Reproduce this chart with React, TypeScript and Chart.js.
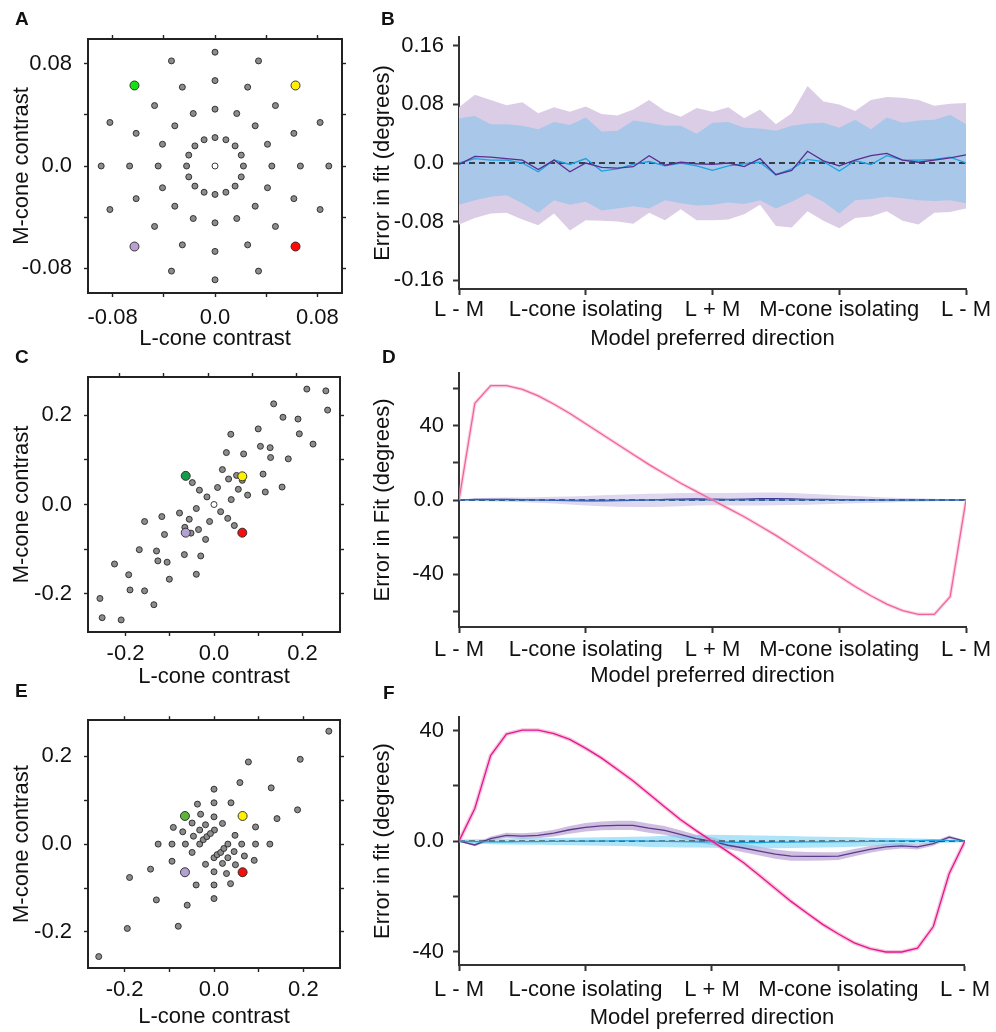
import React, { useEffect, useRef } from 'react';
import { Chart, registerables } from 'chart.js';
Chart.register(...registerables);

const FONT = "'Liberation Sans', Arial, Helvetica, sans-serif";
const TXT = '#111111';
const AXC = '#222222';

// ---------------- Panel A (stimuli, isoluminant-circular) ----------------
const A_TICKS = [-0.08, -0.04, 0, 0.04, 0.08];
const A_TICK_LABELS = ['-0.08', '', '0.0', '', '0.08'];
const A_GRAY_L = [
  0.0222, 0.0205, 0.0157, 0.0085, 0, -0.0085, -0.0157, -0.0205, -0.0222, -0.0205, -0.0157, -0.0085, 0, 0.0085, 0.0157, 0.0205,
  0.0444, 0.041, 0.0314, 0.017, 0, -0.017, -0.0314, -0.041, -0.0444, -0.041, -0.0314, -0.017, 0, 0.017, 0.0314, 0.041,
  0.0667, 0.0616, 0.0472, 0.0255, 0, -0.0255, -0.0472, -0.0616, -0.0667, -0.0616, -0.0472, -0.0255, 0, 0.0255, 0.0472, 0.0616,
  0.0889, 0.0821, 0.034, 0, -0.034, -0.0821, -0.0889, -0.0821, -0.034, 0, 0.034, 0.0821,
];
const A_GRAY_M = [
  0, 0.0085, 0.0157, 0.0205, 0.0222, 0.0205, 0.0157, 0.0085, 0, -0.0085, -0.0157, -0.0205, -0.0222, -0.0205, -0.0157, -0.0085,
  0, 0.017, 0.0314, 0.041, 0.0444, 0.041, 0.0314, 0.017, 0, -0.017, -0.0314, -0.041, -0.0444, -0.041, -0.0314, -0.017,
  0, 0.0255, 0.0472, 0.0616, 0.0667, 0.0616, 0.0472, 0.0255, 0, -0.0255, -0.0472, -0.0616, -0.0667, -0.0616, -0.0472, -0.0255,
  0, 0.034, 0.0821, 0.0889, 0.0821, 0.034, 0, -0.034, -0.0821, -0.0889, -0.0821, -0.034,
];
const A_HI_L = [-0.0629, 0.0629, -0.0629, 0.0629];
const A_HI_M = [0.0629, 0.0629, -0.0629, -0.0629];
const A_HI_COLORS = ['#14e014', '#fff000', '#b9a0d2', '#ff0a0a'];

// ---------------- Panel C ----------------
const C_TICKS = [-0.2, -0.1, 0, 0.1, 0.2];
const C_TICK_LABELS = ['-0.2', '', '0.0', '', '0.2'];
const C_GRAY_L = [
  0.210, 0.253, 0.257, 0.135, 0.156, 0.190, 0.193, 0.224, 0.100, 0.038, 0.105, 0.127, 0.128, 0.168, 0.028, 0.067,
  0.019, 0.033, 0.051, 0.064, 0.111, 0.154, 0.116, 0.076, 0.055, 0.039, 0.008, -0.016, -0.033, -0.049,
  0.015, 0.031, 0.046, -0.040, -0.078, -0.056, -0.010, -0.118, -0.157, -0.112, -0.066, -0.052, -0.035, -0.019,
  -0.169, -0.130, -0.127, -0.106, -0.067, -0.030, -0.040, -0.101, -0.225, -0.193, -0.190, -0.157, -0.136, -0.258, -0.253, -0.210,
];
const C_GRAY_M = [
  0.258, 0.254, 0.211, 0.225, 0.195, 0.191, 0.158, 0.135, 0.169, 0.157, 0.130, 0.127, 0.105, 0.102, 0.116, 0.113,
  0.078, 0.057, 0.065, 0.054, 0.068, 0.039, 0.028, 0.021, 0.034, 0.011, 0.038, 0.017, 0.032, 0.049,
  -0.016, -0.031, -0.047, -0.009, -0.019, -0.033, -0.038, -0.027, -0.038, -0.067, -0.051, -0.064, -0.056, -0.078,
  -0.101, -0.104, -0.126, -0.129, -0.112, -0.115, -0.156, -0.167, -0.133, -0.157, -0.191, -0.193, -0.224, -0.210, -0.253, -0.258,
];
const C_HI_L = [-0.064, 0.064, -0.064, 0.064];
const C_HI_M = [0.064, 0.063, -0.063, -0.063];
const C_HI_COLORS = ['#169c48', '#fff200', '#b39fd0', '#f01010'];

// ---------------- Panel E ----------------
const E_GRAY_L = [
  0.257, 0.193, 0.077, 0.058, 0.128, 0, -0.037, 0, 0.038, -0.030, 0, 0.187, 0.141, -0.091, -0.070, -0.049, -0.019, 0.019,
  -0.032, 0.001, -0.046, -0.032, -0.024, -0.016, -0.008, 0.093, 0.047, -0.125, -0.094, -0.064, 0.062, 0.093, 0.125,
  -0.049, 0, 0.007, 0.015, 0.022, 0.031, 0.031, 0.045, 0.068, 0.090, -0.019, 0.019, 0.048, -0.094, -0.142, 0, 0.028,
  -0.189, -0.040, 0, 0.037, -0.129, 0, -0.060, -0.080, -0.194, -0.258,
];
const E_GRAY_M = [
  0.257, 0.193, 0.187, 0.140, 0.128, 0.125, 0.091, 0.094, 0.094, 0.068, 0.062, 0.078, 0.058, 0.038, 0.028, 0.048, 0.044, 0.047,
  0.032, 0.032, 0.018, 0, 0.010, 0.017, 0.024, 0.039, 0.020, 0, 0, 0, 0, 0, 0,
  -0.019, -0.031, -0.024, -0.019, -0.010, 0, -0.031, -0.017, -0.027, -0.037, -0.046, -0.044, -0.047, -0.039, -0.057, -0.063, -0.067,
  -0.076, -0.093, -0.093, -0.090, -0.127, -0.124, -0.139, -0.187, -0.192, -0.256,
];
const E_HI_L = [-0.065, 0.064, -0.065, 0.064];
const E_HI_M = [0.064, 0.064, -0.064, -0.064];
const E_HI_COLORS = ['#5db43a', '#fff200', '#b39fd0', '#f01010'];

// ---------------- Direction axis (B, D, F) ----------------
const DIR_TICKS = [0, 8, 16, 24, 32];
const DIR_LABELS = ['L - M', 'L-cone isolating', 'L + M', 'M-cone isolating', 'L - M'];
const ZERO_X = [0, 32];
const ZERO_Y = [0, 0];

// ---------------- Panel B ----------------
const B_Y_TICKS = [-0.16, -0.08, 0, 0.08, 0.16];
const B_Y_LABELS = ['-0.16', '-0.08', '0.0', '0.08', '0.16'];
const B_PURPLE = [-0.002, 0.009, 0.008, 0.006, 0.004, -0.009, 0.004, -0.012, 0.000, -0.006, -0.007, -0.005, 0.010, -0.003, 0.001, -0.001, -0.002, 0.000, -0.005, 0.006, -0.016, -0.010, 0.016, 0.003, -0.004, 0.004, 0.010, 0.013, 0.004, 0.001, 0.004, 0.007, 0.011];
const B_BLUE = [0.000, 0.006, 0.004, 0.004, 0.000, -0.012, 0.004, -0.002, 0.006, -0.011, -0.008, -0.002, 0.002, -0.004, 0.000, -0.004, -0.010, -0.004, -0.001, 0.001, -0.016, -0.008, 0.005, 0.002, -0.011, 0.003, -0.002, 0.010, 0.004, 0.004, 0.005, 0.008, 0.000];
const B_PURPLE_HI = [0.076, 0.093, 0.086, 0.079, 0.083, 0.068, 0.076, 0.070, 0.077, 0.067, 0.065, 0.073, 0.086, 0.071, 0.063, 0.075, 0.070, 0.076, 0.061, 0.073, 0.053, 0.068, 0.105, 0.084, 0.080, 0.071, 0.086, 0.090, 0.089, 0.086, 0.078, 0.081, 0.082];
const B_PURPLE_LO = [-0.084, -0.075, -0.069, -0.068, -0.077, -0.085, -0.069, -0.092, -0.078, -0.079, -0.080, -0.083, -0.068, -0.078, -0.063, -0.078, -0.078, -0.077, -0.070, -0.057, -0.086, -0.088, -0.066, -0.079, -0.089, -0.075, -0.073, -0.066, -0.079, -0.084, -0.068, -0.067, -0.062];
const B_BLUE_HI = [0.061, 0.064, 0.053, 0.053, 0.051, 0.046, 0.056, 0.052, 0.062, 0.043, 0.044, 0.058, 0.055, 0.051, 0.051, 0.040, 0.055, 0.056, 0.048, 0.047, 0.044, 0.051, 0.054, 0.055, 0.048, 0.059, 0.046, 0.062, 0.055, 0.058, 0.059, 0.066, 0.053];
const B_BLUE_LO = [-0.057, -0.051, -0.046, -0.044, -0.055, -0.068, -0.051, -0.057, -0.053, -0.065, -0.062, -0.059, -0.062, -0.051, -0.055, -0.058, -0.057, -0.054, -0.056, -0.051, -0.062, -0.053, -0.042, -0.053, -0.069, -0.051, -0.049, -0.046, -0.048, -0.051, -0.052, -0.051, -0.055];

// ---------------- Panel D ----------------
const D_Y_TICKS = [-60, -40, -20, 0, 20, 40, 60];
const D_Y_LABELS = ['', '-40', '', '0.0', '', '40', ''];
const D_PINK = [0, 52, 61.5, 61.5, 59.5, 56, 51.5, 46.5, 41, 35.5, 30, 24.5, 19, 14, 9, 4.5, 0, -4.5, -9, -14, -19, -24.5, -30, -35.5, -41, -46.5, -51.5, -56, -59.5, -61.5, -61.5, -52, 0];
const D_PURPLE = [0, 0.3, 0.4, 0.3, 0.2, 0, -0.2, -0.4, -0.5, -0.5, -0.4, -0.2, 0, 0.3, 0.5, 0.6, 0.5, 0.4, 0.5, 0.7, 0.8, 0.6, 0.4, 0.3, 0.2, 0.1, 0, 0, 0, 0, 0, 0, 0];
const D_PURPLE_HI = [0.3, 0.9, 1.2, 1.3, 1.4, 1.5, 1.7, 1.9, 2.2, 2.5, 2.8, 3.1, 3.3, 3.5, 3.7, 3.8, 3.8, 3.8, 3.9, 4.0, 4.0, 3.7, 3.3, 2.9, 2.5, 2.1, 1.7, 1.4, 1.1, 0.9, 0.7, 0.5, 0.3];
const D_PURPLE_LO = [-0.3, -0.6, -0.8, -1.0, -1.2, -1.5, -1.9, -2.4, -2.9, -3.3, -3.6, -3.8, -3.8, -3.6, -3.3, -3.0, -2.8, -2.9, -3.0, -3.0, -2.8, -2.7, -2.6, -2.3, -2.0, -1.8, -1.6, -1.3, -1.1, -0.9, -0.7, -0.5, -0.3];
const D_BLUE = [0, 0, 0, 0, 0, 0, 0, 0, 0, 0, 0, 0, 0, 0, 0, 0, 0, 0, 0, 0, 0, 0, 0, 0, 0, 0, 0, 0, 0, 0, 0, 0, 0];

// ---------------- Panel F ----------------
const F_Y_TICKS = [-40, -20, 0, 20, 40];
const F_Y_LABELS = ['-40', '', '0.0', '', '40'];
const F_PINK = [0, 11.8, 30.9, 38.7, 40.1, 40.1, 38.9, 36.8, 33.6, 30.1, 26.0, 21.8, 17.1, 12.4, 7.8, 3.8, 0, -3.8, -7.8, -12.4, -17.1, -21.8, -26.0, -30.1, -33.6, -36.8, -38.9, -40.1, -40.1, -38.7, -30.9, -11.8, 0];
const F_PURPLE = [0, -1.4, 0.9, 2.1, 1.8, 2.1, 2.9, 4.1, 5.0, 5.5, 5.7, 5.7, 4.7, 3.9, 2.4, 0.9, 0, -1.5, -2.5, -3.6, -4.7, -5.4, -5.5, -5.5, -5.4, -4.2, -3.0, -2.1, -1.7, -2.1, -0.9, 1.4, 0];
const F_PURPLE_HI = [0.2, -0.9, 1.7, 3.0, 2.8, 3.2, 4.1, 5.5, 6.5, 7.1, 7.4, 7.4, 6.4, 5.5, 3.9, 2.3, 1.4, -0.1, -1.0, -2.0, -3.0, -3.7, -3.9, -4.0, -4.0, -2.9, -1.8, -1.0, -0.7, -1.2, -0.1, 2.0, 0.3];
const F_PURPLE_LO = [-0.2, -1.9, 0.1, 1.2, 0.8, 1.0, 1.7, 2.7, 3.5, 3.9, 4.0, 4.0, 3.0, 2.3, 0.9, -0.5, -1.4, -2.9, -4.0, -5.2, -6.4, -7.1, -7.1, -7.0, -6.8, -5.5, -4.2, -3.2, -2.7, -3.0, -1.7, 0.8, -0.3];
const F_BLUE = [0, -0.2, -0.3, -0.3, -0.2, -0.2, -0.1, -0.1, 0, 0, 0.1, 0.1, 0, -0.1, -0.2, -0.3, -0.3, -0.4, -0.5, -0.5, -0.4, -0.4, -0.3, -0.3, -0.2, -0.2, -0.1, 0, 0.1, 0.2, 0.3, 0.2, 0];
const F_BLUE_HI = [0.6, 0.7, 0.8, 0.9, 1.0, 1.0, 1.1, 1.2, 1.3, 1.4, 1.5, 1.6, 1.7, 1.9, 2.1, 2.2, 2.3, 2.2, 2.1, 2.0, 1.9, 1.8, 1.7, 1.6, 1.5, 1.4, 1.2, 1.1, 1.0, 0.9, 0.8, 0.6, 0.4];
const F_BLUE_LO = [-0.6, -0.9, -1.1, -1.2, -1.3, -1.3, -1.4, -1.5, -1.6, -1.7, -1.8, -1.9, -2.1, -2.2, -2.3, -2.3, -2.4, -2.5, -2.5, -2.6, -2.6, -2.5, -2.4, -2.3, -2.2, -2.0, -1.8, -1.6, -1.4, -1.1, -0.8, -0.6, -0.4];

// ---------------- helpers ----------------
const FONT22 = { family: FONT, size: 22 };
const fixed = (dim: 'width' | 'height', v: number) => (s: any) => { s[dim] = v; };
const setTicks = (vals: number[]) => (s: any) => { s.ticks = vals.map((v) => ({ value: v })); };
const pts = (xs: number[], ys: number[]) => xs.map((x, i) => ({ x, y: ys[i] }));
const seq = (ys: number[]) => ys.map((y, i) => ({ x: i, y }));

function scatterConfig(p: any) {
  const grid = { drawOnChartArea: false, drawTicks: true, tickLength: 4, tickColor: AXC, tickWidth: 1.4, color: AXC };
  const border = { display: true, color: AXC, width: 2 };
  const common = { xAxisID: 'x', yAxisID: 'y', pointBorderColor: '#262626', pointBorderWidth: 0.9 };
  return {
    type: 'scatter',
    data: {
      datasets: [
        { ...common, data: pts(p.hiL, p.hiM), pointRadius: 4.5, pointBackgroundColor: p.hiColors },
        ...(p.center ? [{ ...common, data: pts([0], [0]), pointRadius: 3, pointBackgroundColor: '#ffffff' }] : []),
        { ...common, data: pts(p.grayL, p.grayM), pointRadius: 3, pointBackgroundColor: '#8c8c8c' },
      ],
    },
    options: {
      responsive: false, animation: false, devicePixelRatio: 1, events: [],
      layout: { padding: 0 },
      plugins: { legend: { display: false }, tooltip: { enabled: false } },
      scales: {
        x: {
          type: 'linear', axis: 'x', position: 'bottom', min: p.min, max: p.max,
          afterBuildTicks: setTicks(p.ticks), afterFit: fixed('height', p.bottomH),
          ticks: { callback: (_v: any, i: number) => p.labels[i], font: FONT22, color: TXT, padding: p.xPad, maxRotation: 0, autoSkip: false },
          grid, border,
          title: { display: true, text: 'L-cone contrast', font: FONT22, color: TXT, padding: { top: 0, bottom: p.xTitlePad } },
        },
        xTop: {
          type: 'linear', axis: 'x', position: 'top', min: p.min + p.topShift, max: p.max + p.topShift,
          afterBuildTicks: setTicks(p.ticks), afterFit: fixed('height', p.topH),
          ticks: { display: false }, grid, border,
        },
        y: {
          type: 'linear', axis: 'y', position: 'left', min: p.min, max: p.max,
          afterBuildTicks: setTicks(p.ticks), afterFit: fixed('width', 88),
          ticks: { callback: (_v: any, i: number) => p.labels[i], font: FONT22, color: TXT, padding: 12 },
          grid, border,
          title: { display: true, text: 'M-cone contrast', font: FONT22, color: TXT, padding: { top: 9, bottom: 0 } },
        },
        yRight: {
          type: 'linear', axis: 'y', position: 'right', min: p.min, max: p.max,
          afterBuildTicks: setTicks(p.ticks), afterFit: fixed('width', p.rightW),
          ticks: { display: false }, grid, border,
        },
      },
    },
  };
}

const lineDs = (ys: number[], color: string, width: number, extra: any = {}) => ({
  data: seq(ys), borderColor: color, borderWidth: width, pointRadius: 0, fill: false, tension: 0, ...extra,
});
const bandHi = (ys: number[], color: string) => ({
  data: seq(ys), borderColor: 'rgba(0,0,0,0)', borderWidth: 0, pointRadius: 0, fill: '+1', backgroundColor: color, tension: 0,
});
const bandLo = (ys: number[]) => ({
  data: seq(ys), borderColor: 'rgba(0,0,0,0)', borderWidth: 0, pointRadius: 0, fill: false, tension: 0,
});
const zeroDs = (color: string) => ({
  data: pts(ZERO_X, ZERO_Y), borderColor: color, borderWidth: 1.3, borderDash: [6, 4], pointRadius: 0, fill: false,
});

function lineConfig(p: any) {
  const grid = { drawOnChartArea: false, drawTicks: true, tickLength: 6, tickColor: '#333333', tickWidth: 2, color: '#333333' };
  const border = { display: true, color: '#333333', width: 2 };
  return {
    type: 'line',
    data: { datasets: p.datasets },
    options: {
      responsive: false, animation: false, devicePixelRatio: 1, events: [],
      layout: { padding: { left: 0, right: 30, top: p.top, bottom: 0 } },
      plugins: { legend: { display: false }, tooltip: { enabled: false } },
      scales: {
        x: {
          type: 'linear', min: 0, max: 32,
          afterBuildTicks: setTicks(DIR_TICKS), afterFit: fixed('height', p.bottomH),
          ticks: { callback: (_v: any, i: number) => DIR_LABELS[i], font: FONT22, color: TXT, padding: p.xPad, maxRotation: 0, autoSkip: false },
          grid, border,
          title: { display: true, text: 'Model preferred direction', font: FONT22, color: TXT, padding: { top: 0, bottom: p.xTitlePad } },
        },
        y: {
          type: 'linear', min: p.yMin, max: p.yMax,
          afterBuildTicks: setTicks(p.yTicks), afterFit: fixed('width', 99),
          ticks: { callback: (_v: any, i: number) => p.yLabels[i], font: FONT22, color: TXT, padding: 9 },
          grid, border,
          title: { display: true, text: p.yTitle, font: FONT22, color: TXT, padding: { top: 10, bottom: 0 } },
        },
      },
    },
  };
}

// ---------------- panel configs ----------------
const panelA = () => scatterConfig({
  min: -0.0992, max: 0.0992, topShift: 0, ticks: A_TICKS, labels: A_TICK_LABELS,
  grayL: A_GRAY_L, grayM: A_GRAY_M, hiL: A_HI_L, hiM: A_HI_M, hiColors: A_HI_COLORS, center: true,
  topH: 39, bottomH: 67, rightW: 23, xPad: 8, xTitlePad: 8,
});
const panelC = () => scatterConfig({
  min: -0.285, max: 0.285, topShift: 0.0135, ticks: C_TICKS, labels: C_TICK_LABELS,
  grayL: C_GRAY_L, grayM: C_GRAY_M, hiL: C_HI_L, hiM: C_HI_M, hiColors: C_HI_COLORS, center: true,
  topH: 32, bottomH: 63, rightW: 25, xPad: 5, xTitlePad: 5,
});
const panelE = () => scatterConfig({
  min: -0.282, max: 0.282, topShift: 0, ticks: C_TICKS, labels: C_TICK_LABELS,
  grayL: E_GRAY_L, grayM: E_GRAY_M, hiL: E_HI_L, hiM: E_HI_M, hiColors: E_HI_COLORS, center: false,
  topH: 20, bottomH: 64, rightW: 25, xPad: 5, xTitlePad: 2,
});

const panelB = () => lineConfig({
  top: 37, bottomH: 66, xPad: 2, xTitlePad: 3,
  yMin: -0.172, yMax: 0.172, yTicks: B_Y_TICKS, yLabels: B_Y_LABELS, yTitle: 'Error in fit (degrees)',
  datasets: [
    lineDs(B_PURPLE, '#5b2c8f', 1.3),
    lineDs(B_BLUE, '#1aa3e0', 1.3),
    zeroDs('#111111'),
    bandHi(B_BLUE_HI, '#a9c7e8'),
    bandLo(B_BLUE_LO),
    bandHi(B_PURPLE_HI, '#dccde6'),
    bandLo(B_PURPLE_LO),
  ],
});
const panelD = () => lineConfig({
  top: 28, bottomH: 68, xPad: 4, xTitlePad: 6,
  yMin: -68.3, yMax: 68.3, yTicks: D_Y_TICKS, yLabels: D_Y_LABELS, yTitle: 'Error in Fit (degrees)',
  datasets: [
    lineDs(D_PINK, '#f0649c', 1.3),
    lineDs(D_PINK, 'rgba(246,178,206,0.55)', 3.5),
    lineDs(D_BLUE, '#2189d8', 1.2),
    lineDs(D_PURPLE, '#3c3a96', 1.2),
    zeroDs('#111111'),
    bandHi(D_PURPLE_HI, 'rgba(196,180,225,0.55)'),
    bandLo(D_PURPLE_LO),
  ],
});
const panelF = () => lineConfig({
  top: 17, bottomH: 67, xPad: 6, xTitlePad: 1,
  yMin: -44.8, yMax: 44.8, yTicks: F_Y_TICKS, yLabels: F_Y_LABELS, yTitle: 'Error in fit (degrees)',
  datasets: [
    lineDs(F_PINK, '#e6178c', 1.3),
    lineDs(F_PINK, 'rgba(236,140,190,0.5)', 4),
    lineDs(F_BLUE, '#1fa3de', 1.3),
    zeroDs('#1a1a1a'),
    lineDs(F_PURPLE, '#5a3b8c', 1.3),
    bandHi(F_BLUE_HI, 'rgba(110,205,242,0.55)'),
    bandLo(F_BLUE_LO),
    bandHi(F_PURPLE_HI, 'rgba(160,125,192,0.5)'),
    bandLo(F_PURPLE_LO),
  ],
});

function ChartBox({ left, top, width, height, make }: any) {
  const ref = useRef<HTMLCanvasElement>(null);
  useEffect(() => {
    const chart = new Chart(ref.current as HTMLCanvasElement, make() as any);
    return () => chart.destroy();
  }, []);
  return (
    <canvas ref={ref} width={width} height={height}
      style={{ position: 'absolute', left, top, width, height }} />
  );
}

const letterStyle = (left: number, top: number): React.CSSProperties => ({
  position: 'absolute', left, top, fontFamily: FONT, fontWeight: 'bold', fontSize: 19, lineHeight: '19px', color: TXT,
});

export default function App() {
  return (
    <div style={{ position: 'absolute', left: 0, top: 0, width: 996, height: 1032, background: '#ffffff', overflow: 'hidden' }}>
      <ChartBox left={0} top={0} width={365} height={360} make={panelA} />
      <ChartBox left={360} top={0} width={636} height={355} make={panelB} />
      <ChartBox left={0} top={345} width={365} height={350} make={panelC} />
      <ChartBox left={360} top={345} width={636} height={350} make={panelD} />
      <ChartBox left={0} top={695} width={365} height={337} make={panelE} />
      <ChartBox left={360} top={695} width={636} height={337} make={panelF} />
      <div style={letterStyle(15, 9)}>A</div>
      <div style={letterStyle(381, 9)}>B</div>
      <div style={letterStyle(15, 347)}>C</div>
      <div style={letterStyle(382, 347)}>D</div>
      <div style={letterStyle(15, 681)}>E</div>
      <div style={letterStyle(383, 683)}>F</div>
    </div>
  );
}
